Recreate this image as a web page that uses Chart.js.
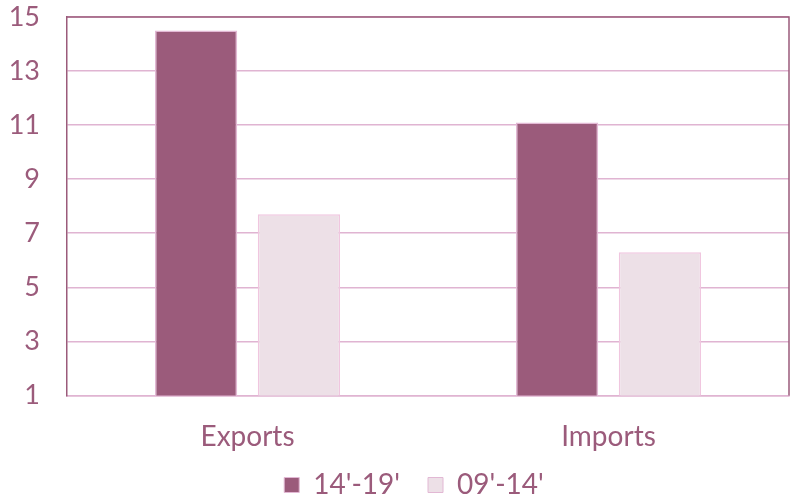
<!DOCTYPE html>
<html>
<head>
<meta charset="utf-8">
<script src="https://cdn.jsdelivr.net/npm/chart.js@4"></script>
<style>
  html, body { margin: 0; padding: 0; background: #fff; }
  #wrap { width: 790px; height: 498px; }
</style>
</head>
<body>
<div id="wrap"><canvas id="tradeChart"></canvas></div>
<script>
// data
var categories = ['Exports', 'Imports'];
var seriesNames = ["14'-19'", "09'-14'"];
var recent = [14.5, 11.1];
var earlier = [7.7, 6.3];
var yTicks = [1, 3, 5, 7, 9, 11, 13, 15];

var mauve = '#9b5b7b';
var gridPink = '#e0b4d2';

// frame lines on top and right of the plot area
var framePlugin = {
    id: 'frame',
    afterDatasetsDraw: function (chart) {
        var a = chart.chartArea, ctx = chart.ctx;
        ctx.save();
        ctx.strokeStyle = mauve;
        ctx.lineWidth = 1.5;
        ctx.beginPath();
        ctx.moveTo(a.left, a.top);
        ctx.lineTo(a.right, a.top);
        ctx.lineTo(a.right, a.bottom);
        ctx.stroke();
        ctx.restore();
    }
};

var ctx = document.getElementById('tradeChart').getContext('2d');
var myChart = new Chart(ctx, {
    type: 'bar',
    data: {
        labels: categories,
        datasets: [{
            label: seriesNames[0],
            data: recent,
            backgroundColor: mauve,
            borderColor: '#e2b8d4',
            borderWidth: 1.5
        }, {
            label: seriesNames[1],
            data: earlier,
            backgroundColor: '#ede0e7',
            borderColor: '#f0c6df',
            borderWidth: 1.5
        }]
    },
    plugins: [framePlugin],
    options: {
        responsive: true,
        maintainAspectRatio: false,
        animation: false,
        layout: { padding: { top: 17, right: 1, left: 0, bottom: -11 } },
        datasets: { bar: { categoryPercentage: 0.57, barPercentage: 0.8 } },
        plugins: {
            tooltip: { enabled: false },
            legend: {
                position: 'bottom',
                fullSize: false,
                labels: {
                    color: mauve,
                    font: { family: 'Lato', size: 28 },
                    boxWidth: 15,
                    boxHeight: 15,
                    padding: 0,
                    generateLabels: function (chart) {
                        return chart.data.datasets.map(function (ds, i) {
                            return {
                                text: ds.label + '\u2002\u2002',
                                fillStyle: ds.backgroundColor,
                                strokeStyle: '#e2b8d4',
                                lineWidth: 1,
                                fontColor: mauve,
                                datasetIndex: i
                            };
                        });
                    }
                }
            }
        },
        scales: {
            x: {
                grid: { display: false },
                border: { color: gridPink, width: 1.5 },
                ticks: { color: mauve, font: { family: 'Lato', size: 28 }, padding: 17 }
            },
            y: {
                min: 1,
                max: 15,
                afterFit: function (scale) {
                    scale.width = 67;
                    scale.paddingTop = 0;
                    scale.paddingBottom = 0;
                },
                afterBuildTicks: function (scale) {
                    scale.ticks = yTicks.map(function (v) { return { value: v }; });
                },
                grid: { color: gridPink, lineWidth: 1.5, drawTicks: false },
                border: { color: mauve, width: 1.5 },
                ticks: { color: mauve, font: { family: 'Lato', size: 27 }, padding: 27 }
            }
        }
    }
});
</script>
</body>
</html>
